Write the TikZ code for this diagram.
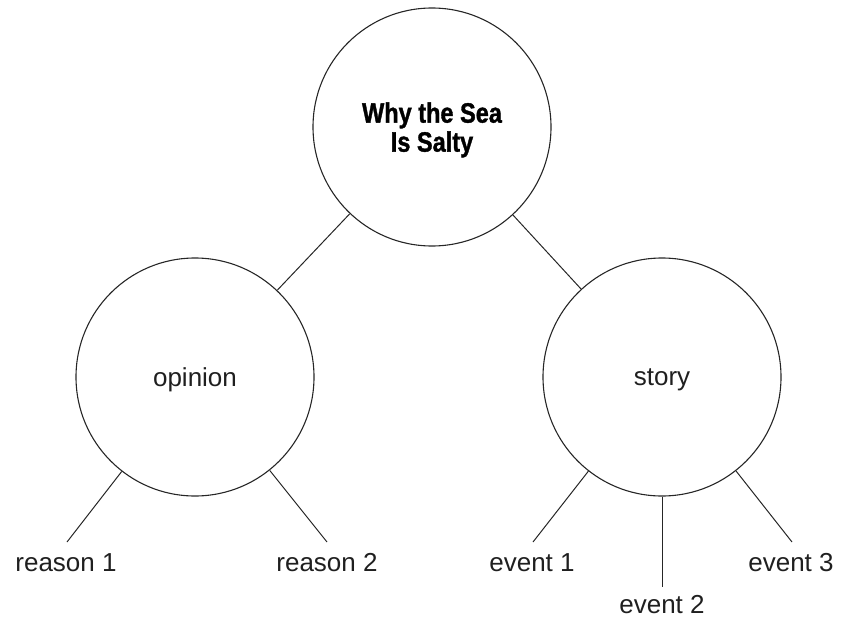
\documentclass[tikz,border=0pt]{standalone}
\usepackage{fontspec}
\setmainfont{Liberation Sans}
\newfontfamily\titlefont[FakeStretch=0.84,FakeBold=1.2]{Liberation Sans Bold}
\begin{document}
\begin{tikzpicture}[x=1pt,y=-1pt,
  bubble/.style={circle,draw=black!85,line width=1.1pt,minimum size=238pt,inner sep=0pt,
    text depth=0pt,font=\fontsize{26}{29}\selectfont,text=black!88},
  leaf/.style={anchor=base,inner sep=0pt,font=\fontsize{26}{29}\selectfont,text=black!88},
  link/.style={draw=black!85,line width=1pt}]
\useasboundingbox (0,0) rectangle (842,618);
\node[bubble,align=center,font=\titlefont\fontsize{28}{29}\selectfont,text=black] (top) at (432,127) {Why the Sea\\Is Salty};
\node[bubble] (op) at (195,377) {opinion};
\node[bubble] (st) at (662,377) {story};
\coordinate (r1e) at (67,542);
\coordinate (r2e) at (327,542);
\coordinate (e1e) at (533,542);
\coordinate (e2e) at (662,587);
\coordinate (e3e) at (792,542);
\node[leaf] (r1) at (66,571) {reason 1};
\node[leaf] (r2) at (327,571) {reason 2};
\node[leaf] (e1) at (532,571) {event 1};
\node[leaf] (e2) at (662,613) {event 2};
\node[leaf] (e3) at (791,571) {event 3};
\draw[link] (top) -- (op);
\draw[link] (top) -- (st);
\draw[link] (op) -- (r1e);
\draw[link] (op) -- (r2e);
\draw[link] (st) -- (e1e);
\draw[link] (st) -- (e2e);
\draw[link] (st) -- (e3e);
\end{tikzpicture}
\end{document}
